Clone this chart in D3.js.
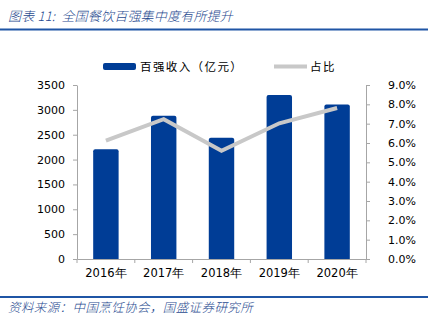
<!DOCTYPE html>
<html><head><meta charset="utf-8">
<script src="https://cdn.jsdelivr.net/npm/d3@7"></script>
<style>
html,body{margin:0;padding:0;background:#fff;}
svg{display:block;}
</style></head>
<body>
<svg id="c" width="428" height="324"></svg>
<script>
const categories = ["2016年","2017年","2018年","2019年","2020年"];
const revenue = [2210, 2880, 2440, 3300, 3110];
const share = [0.0612, 0.0723, 0.056, 0.0702, 0.0781];
const leftTicks = [0,500,1000,1500,2000,2500,3000,3500];
const rightTicks = [0,0.01,0.02,0.03,0.04,0.05,0.06,0.07,0.08,0.09];
const seriesNames = ["百强收入（亿元）","占比"];
const titleText = "图表 11:  全国餐饮百强集中度有所提升";
const sourceText = "资料来源：中国烹饪协会，国盛证券研究所";

const svg = d3.select("#c");
const blue = "#003D96", grey = "#C8C8C8", axisC = "#A6A6A6";
const tickFont = "DejaVu Sans, Verdana, sans-serif";
const cjk = "'Noto Sans CJK SC', sans-serif";

// title
svg.append("text").attr("x",8).attr("y",21).text(titleText)
  .attr("font-family",cjk).attr("font-size",13).attr("font-style","italic")
  .attr("font-weight",300).attr("letter-spacing",0.2).attr("xml:space","preserve")
  .attr("fill","#1F4A8F");
svg.append("line").attr("x1",0).attr("x2",428).attr("y1",29.5).attr("y2",29.5)
  .attr("stroke","#1F55A5").attr("stroke-width",2);

// footer
svg.append("line").attr("x1",0).attr("x2",428).attr("y1",297).attr("y2",297)
  .attr("stroke","#1F55A5").attr("stroke-width",2);
svg.append("text").attr("x",8).attr("y",312).text(sourceText)
  .attr("font-family",cjk).attr("font-size",12.5).attr("font-style","italic")
  .attr("font-weight",300).attr("letter-spacing",0.4)
  .attr("fill","#1F4A8F");

const x0 = 77, x1 = 366, yTop = 85, yBot = 259;
const x = d3.scaleBand().domain(categories).range([x0,x1]).paddingInner(0.56).paddingOuter(0.28);
const yL = d3.scaleLinear().domain([0,3500]).range([yBot,yTop]);
const yR = d3.scaleLinear().domain([0,0.09]).range([yBot,yTop]);

// bars
svg.append("g").selectAll("path").data(revenue).join("path")
  .attr("d",(d,i)=>{
    const bx = x(categories[i]), bw = x.bandwidth(), by = yL(d), r = 2;
    return `M${bx},${yBot}V${by+r}Q${bx},${by} ${bx+r},${by}H${bx+bw-r}Q${bx+bw},${by} ${bx+bw},${by+r}V${yBot}Z`;
  }).attr("fill",blue);

// line
const line = d3.line().x((d,i)=>x(categories[i])+x.bandwidth()/2).y(d=>yR(d));
svg.append("path").datum(share).attr("d",line).attr("fill","none")
  .attr("stroke",grey).attr("stroke-width",4).attr("stroke-linejoin","miter");

// axes
function styleAxis(g){
  g.selectAll(".domain").attr("stroke",axisC);
  g.selectAll(".tick line").attr("stroke",axisC);
  g.selectAll("text").attr("font-family",tickFont).attr("font-size",11).attr("fill","#000");
}
const gl = svg.append("g").attr("transform",`translate(${x0},0)`)
  .call(d3.axisLeft(yL).tickValues(leftTicks).tickSize(4).tickSizeOuter(0).tickPadding(8).tickFormat(d3.format("d")));
styleAxis(gl);
const gr = svg.append("g").attr("transform",`translate(${x1},0)`)
  .call(d3.axisRight(yR).tickValues(rightTicks).tickSize(4).tickSizeOuter(0).tickPadding(18).tickFormat(d3.format(".1%")));
styleAxis(gr);
const gb = svg.append("g").attr("transform",`translate(0,${yBot})`)
  .call(d3.axisBottom(x).tickSize(0).tickPadding(10));
styleAxis(gb);
gb.selectAll("text").attr("font-size",11.5);
// category boundary ticks
const bounds = d3.range(categories.length+1).map(i=>x0 + i*(x1-x0)/categories.length);
gb.selectAll(".bt").data(bounds).join("line").attr("class","bt")
  .attr("x1",d=>d).attr("x2",d=>d).attr("y1",0).attr("y2",4).attr("stroke",axisC);

// legend
const lg = svg.append("g");
lg.append("rect").attr("x",103).attr("y",63).attr("width",33).attr("height",7).attr("rx",2).attr("fill",blue);
lg.append("text").attr("x",140).attr("y",70.5).text(seriesNames[0])
  .attr("font-family",cjk).attr("font-size",11.5).attr("letter-spacing",1.4).attr("fill","#000");
lg.append("line").attr("x1",274).attr("x2",307).attr("y1",66.5).attr("y2",66.5).attr("stroke",grey).attr("stroke-width",4);
lg.append("text").attr("x",310).attr("y",70.5).text(seriesNames[1])
  .attr("font-family",cjk).attr("font-size",11.5).attr("letter-spacing",1.4).attr("fill","#000");
</script>
</body></html>
